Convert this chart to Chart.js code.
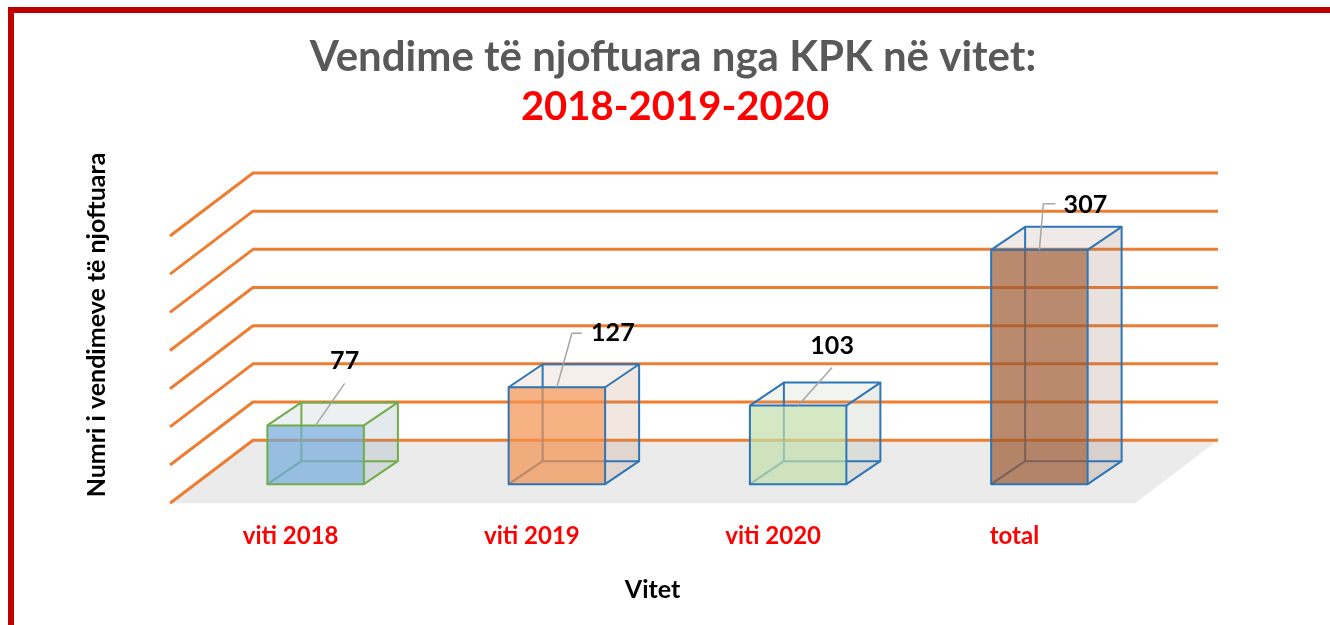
<!DOCTYPE html>
<html>
<head>
<meta charset="utf-8">
<script src="https://cdn.jsdelivr.net/npm/chart.js@4.4.1/dist/chart.umd.min.js"></script>
<style>
  html, body { margin: 0; padding: 0; background: #fff; }
  #wrap { position: relative; width: 1330px; height: 625px; overflow: hidden; }
  #frame { position: absolute; left: 8px; top: 7px; width: 1400px; height: 700px;
           border-left: 6px solid #c00000; border-top: 6px solid #c00000; pointer-events: none; }
</style>
</head>
<body>
<div id="wrap">
  <canvas id="kpkChart" width="1330" height="625"></canvas>
  <div id="frame"></div>
</div>
<script>
// data
const categories = ['viti 2018', 'viti 2019', 'viti 2020', 'total'];
const decisions = [77, 127, 103, 307];
const yMax = 350;
const yStep = 50;
const titleText = 'Vendime të njoftuara nga KPK në vitet:';
const subtitleText = '2018-2019-2020';
const yTitleText = 'Numri i vendimeve të njoftuara';

// styles
const frontColors = ['#73a9db', '#f4924f', '#c3deab', '#9b5931'];
const edgeColors = ['#70ad47', '#2e75b6', '#2e75b6', '#2e75b6'];
// where each value label sits relative to the top of its bar (leader line path + text centre)
const labelPlacement = [
    { text: [29, -64], leader: [[29, -42]] },
    { text: [56, -54], leader: [[15, -54], [25, -54]] },
    { text: [34, -60], leader: [[34, -38]] },
    { text: [46, -45], leader: [[4, -46], [16, -46]] }
];

// fake 3d offsets (pixels)
const WALL = [83, -63];   // floor front edge -> back wall
const FRONT = [25, -19];  // floor front edge -> bar front face
const DEPTH = [34, -23];  // bar front face -> bar back face

function poly(ctx, pts) {
    ctx.beginPath();
    ctx.moveTo(pts[0][0], pts[0][1]);
    for (let i = 1; i < pts.length; i++) ctx.lineTo(pts[i][0], pts[i][1]);
}

const box3d = {
    id: 'box3d',
    beforeDatasetsDraw(chart) {
        const ctx = chart.ctx;
        const { left, right, bottom } = chart.chartArea;
        const yScale = chart.scales.y;
        ctx.save();

        // floor
        ctx.fillStyle = '#ebebeb';
        poly(ctx, [[left, bottom], [left + WALL[0], bottom + WALL[1]],
                   [right + WALL[0], bottom + WALL[1]], [right, bottom]]);
        ctx.closePath();
        ctx.fill();

        // gridlines on side wall and back wall
        ctx.strokeStyle = '#ed7d31';
        ctx.lineWidth = 3;
        ctx.lineJoin = 'round';
        yScale.ticks.forEach(t => {
            const py = yScale.getPixelForValue(t.value);
            poly(ctx, [[left, py], [left + WALL[0], py + WALL[1]], [right + WALL[0], py + WALL[1]]]);
            ctx.stroke();
        });

        // bars as transparent boxes
        const meta = chart.getDatasetMeta(0);
        meta.data.forEach((bar, i) => {
            const p = bar.getProps(['x', 'y', 'base', 'width'], true);
            const o = bar.options;
            const x0 = p.x - p.width / 2 + FRONT[0], x1 = p.x + p.width / 2 + FRONT[0];
            const yT = p.y + FRONT[1], yB = p.base + FRONT[1];
            const dx = DEPTH[0], dy = DEPTH[1];

            // right face
            const right = [[x1, yT], [x1 + dx, yT + dy], [x1 + dx, yB + dy], [x1, yB]];
            ctx.fillStyle = 'rgba(128,128,128,0.12)';
            poly(ctx, right); ctx.closePath(); ctx.fill();
            ctx.globalAlpha = 0.1;
            ctx.fillStyle = o.backgroundColor;
            ctx.fill();
            ctx.globalAlpha = 1;
            // top face
            const topFace = [[x0, yT], [x0 + dx, yT + dy], [x1 + dx, yT + dy], [x1, yT]];
            ctx.fillStyle = 'rgba(128,128,128,0.08)';
            poly(ctx, topFace); ctx.closePath(); ctx.fill();
            ctx.globalAlpha = 0.07;
            ctx.fillStyle = o.backgroundColor;
            ctx.fill();
            ctx.globalAlpha = 1;

            // hidden edges
            ctx.strokeStyle = o.borderColor;
            ctx.lineWidth = 2;
            poly(ctx, [[x0, yB], [x0 + dx, yB + dy], [x1 + dx, yB + dy]]);
            ctx.stroke();
            poly(ctx, [[x0 + dx, yB + dy], [x0 + dx, yT + dy]]);
            ctx.stroke();

            // front face
            ctx.globalAlpha = 0.7;
            ctx.fillStyle = o.backgroundColor;
            ctx.fillRect(x0, yT, x1 - x0, yB - yT);
            ctx.globalAlpha = 1;

            // visible edges
            ctx.strokeRect(x0, yT, x1 - x0, yB - yT);
            poly(ctx, topFace); ctx.stroke();
            poly(ctx, [[x1 + dx, yT + dy], [x1 + dx, yB + dy], [x1, yB]]);
            ctx.stroke();

            // value label with leader line
            const lp = labelPlacement[i];
            const cx = p.x + FRONT[0];
            ctx.strokeStyle = '#a6a6a6';
            ctx.lineWidth = 1.5;
            poly(ctx, [[cx, yT]].concat(lp.leader.map(q => [cx + q[0], yT + q[1]])));
            ctx.stroke();
            ctx.fillStyle = '#000';
            ctx.font = 'bold 25px Lato';
            ctx.textAlign = 'center';
            ctx.textBaseline = 'middle';
            ctx.fillText(String(chart.data.datasets[0].data[i]), cx + lp.text[0], yT + lp.text[1]);
        });

        ctx.restore();
        return false;
    }
};

// chart title, subtitle and y title are placed over the whole picture, not over the plot
const titles = {
    id: 'titles',
    afterDraw(chart) {
        const ctx = chart.ctx;
        ctx.save();
        ctx.textAlign = 'center';
        ctx.textBaseline = 'middle';
        ctx.fillStyle = '#595959';
        ctx.font = 'bold 42px Lato';
        ctx.fillText(titleText, 673, 57);
        ctx.fillStyle = '#ff0000';
        ctx.font = 'bold 40px Lato';
        ctx.fillText(subtitleText, 675, 107);
        ctx.translate(97, 325);
        ctx.rotate(-Math.PI / 2);
        ctx.fillStyle = '#000';
        ctx.font = 'bold 25px Lato';
        ctx.fillText(yTitleText, 0, 0);
        ctx.restore();
    }
};

const ctxBar = document.getElementById('kpkChart').getContext('2d');
const kpkChart = new Chart(ctxBar, {
    type: 'bar',
    data: {
        labels: categories,
        datasets: [{
            data: decisions,
            backgroundColor: frontColors,
            borderColor: edgeColors,
            barPercentage: 0.4,
            categoryPercentage: 1
        }]
    },
    options: {
        responsive: false,
        animation: false,
        layout: { padding: { top: 236, right: 195, bottom: 20, left: 170 } },
        plugins: {
            legend: { display: false },
            tooltip: { enabled: false }
        },
        scales: {
            x: {
                grid: { display: false, drawTicks: false },
                border: { display: false },
                ticks: { color: '#ff0000', font: { family: 'Lato', size: 24, weight: 'bold' }, padding: 19 },
                title: {
                    display: true,
                    text: 'Vitet',
                    color: '#000',
                    font: { family: 'Lato', size: 25, weight: 'bold' },
                    padding: { top: 5, bottom: 0 }
                }
            },
            y: {
                display: false,
                min: 0,
                max: yMax,
                ticks: { stepSize: yStep }
            }
        }
    },
    plugins: [box3d, titles]
});
</script>
</body>
</html>
